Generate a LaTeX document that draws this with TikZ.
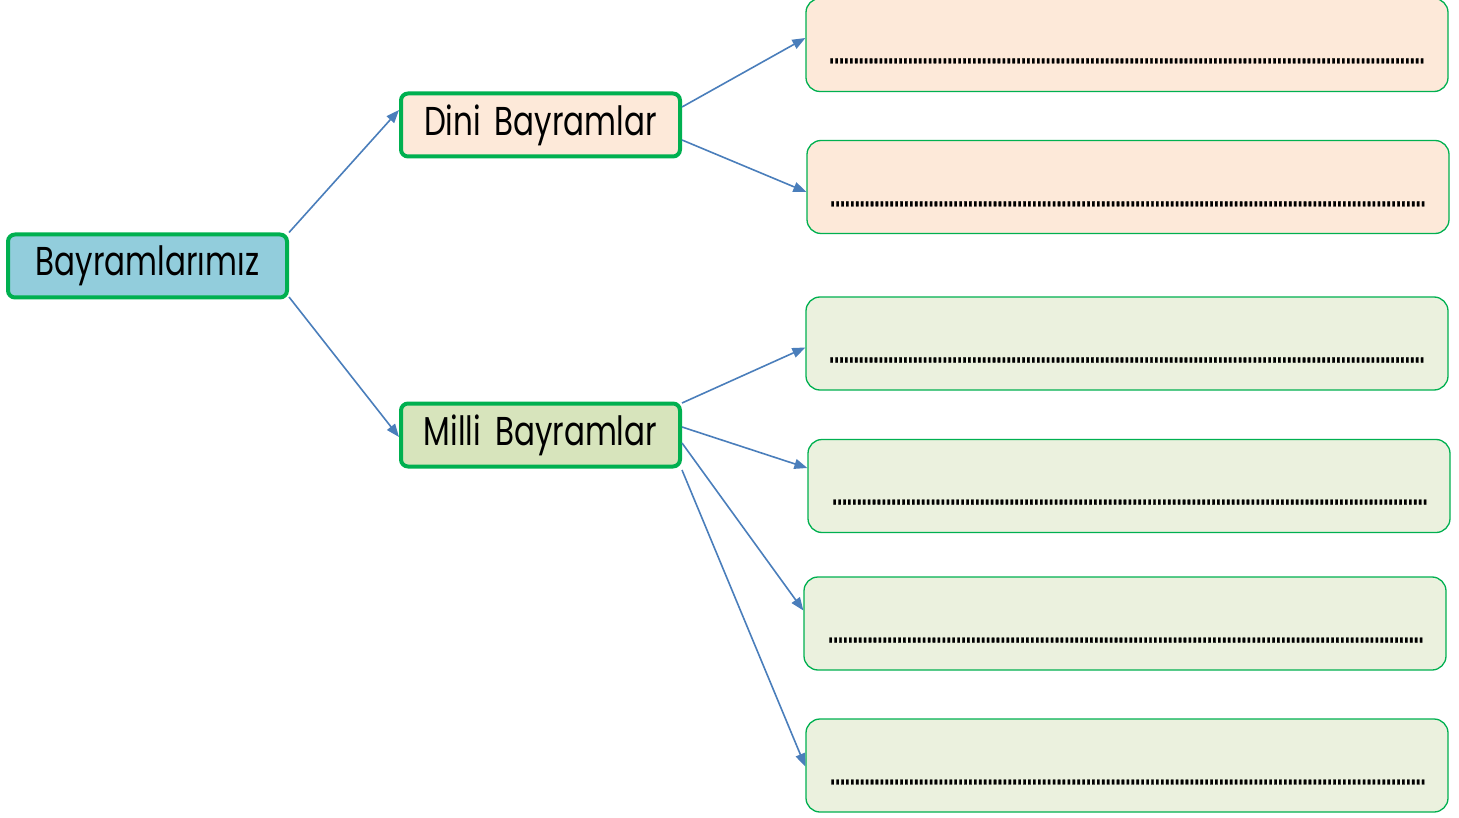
\documentclass[tikz,border=0pt]{standalone}
\usepackage{fontspec}
\setmainfont{Poppins}
\newfontfamily\dotfont[FakeBold=0.8]{Liberation Sans}
\usetikzlibrary{arrows.meta}
\definecolor{grn}{HTML}{00B050}
\definecolor{bluefill}{HTML}{92CDDC}
\definecolor{peach}{HTML}{FDE9D9}
\definecolor{olive}{HTML}{D7E4BC}
\definecolor{lightg}{HTML}{EBF1DE}
\definecolor{arr}{HTML}{4A7EBB}
\newcommand{\dotrow}{\scalebox{1}[1.8]{\dotfont\bfseries .........................................................................................................................}}
\newcommand{\tall}[1]{\scalebox{1}[1.3]{#1}}
\tikzset{
  mainbox/.style={draw=grn, line width=4pt, rounded corners=7pt, minimum width=279pt, minimum height=63pt, inner sep=0pt, font=\fontsize{31}{36}\selectfont},
  answerbox/.style={draw=grn, line width=1.3pt, rounded corners=14pt, minimum width=642pt, minimum height=93pt, inner sep=0pt},
  dotline/.style={inner sep=0pt, anchor=west, font=\fontsize{17.7}{20}\selectfont},
  link/.style={draw=arr, line width=1.6pt, -{Triangle[length=13pt,width=10pt]}}
}
\begin{document}
\begin{tikzpicture}[x=1pt,y=-1pt]
\useasboundingbox (0,0) rectangle (1459,818);
\node[mainbox, fill=bluefill] (bay) at (147.5,266) {\tall{Bayramlarımız}};
\node[mainbox, fill=peach] (dini) at (540.5,125) {\tall{Dini\hspace{0.45em}Bayramlar}};
\node[mainbox, fill=olive] (milli) at (540.5,435) {\tall{Milli\hspace{0.45em}Bayramlar}};

\node[answerbox, fill=peach] (a1) at (1127,45) {};
\node[answerbox, fill=peach] (a2) at (1128,187) {};
\node[answerbox, fill=lightg] (a3) at (1127,343.5) {};
\node[answerbox, fill=lightg] (a4) at (1129,486) {};
\node[answerbox, fill=lightg] (a5) at (1125,623.5) {};
\node[answerbox, fill=lightg] (a6) at (1127,765.5) {};

\node[dotline] (d1) at (829,61) {\dotrow};
\node[dotline] (d2) at (830,204) {\dotrow};
\node[dotline] (d3) at (829,360) {\dotrow};
\node[dotline] (d4) at (832,502) {\dotrow};
\node[dotline] (d5) at (828,640) {\dotrow};
\node[dotline] (d6) at (830,782) {\dotrow};

\draw[link] (bay.north east) -- ([yshift=15pt]dini.west);
\draw[link] ([yshift=-31pt]bay.east) -- ([yshift=-2pt]milli.west);
\draw[link] ([yshift=18pt]dini.east) -- ([yshift=7pt]a1.west);
\draw[link] ([yshift=-15pt]dini.east) -- ([yshift=-5pt]a2.west);
\draw[link] ([yshift=32pt]milli.east) -- ([yshift=-4pt]a3.west);
\draw[link] ([yshift=8pt]milli.east) -- ([yshift=18pt]a4.west);
\draw[link] ([yshift=-8pt]milli.east) -- ([yshift=13pt]a5.west);
\draw[link] ([yshift=-35pt]milli.east) -- ([yshift=-1pt]a6.west);
\end{tikzpicture}
\end{document}
